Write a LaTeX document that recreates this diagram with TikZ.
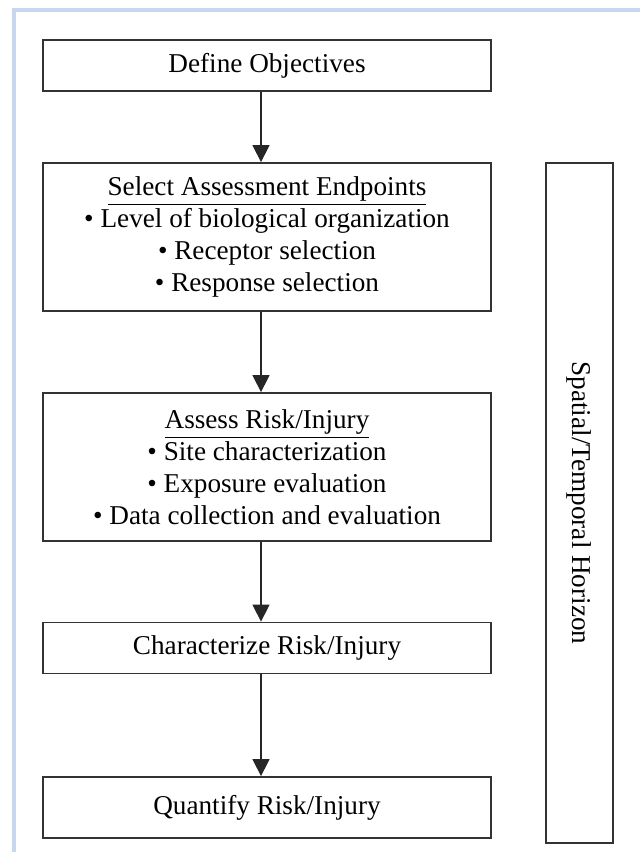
\documentclass[tikz,border=0pt]{standalone}
\usepackage{fontspec}
\setmainfont{Liberation Serif}
\usepackage{tikz}
\usetikzlibrary{arrows.meta}
\definecolor{frameblue}{RGB}{200,214,238}
\tikzset{
	stage/.style={draw=black!80, line width=0.9pt, minimum width=224pt, inner sep=0pt, align=center, font=\fontsize{13.6}{16}\selectfont},
	flow/.style={line width=0.7pt, color=black!85, -{Triangle[width=8.5pt,length=8.5pt]}}
}

\begin{document}
\begin{tikzpicture}[x=0.5pt, y=-0.5pt]
		%%%%% START %%%%%
		\useasboundingbox (0, 0) rectangle (640, 852);
		
		\fill[frameblue] (12, 8) rectangle (640, 12);
		\fill[frameblue] (12, 8) rectangle (16, 852);
		
		\node[stage, minimum height=25.5pt] (obj) at (267, 65.5) {Define Objectives};
		\node[stage, minimum height=74pt] (sel) at (267, 237) {\underline{Select Assessment Endpoints}\\ \textbullet{} Level of biological organization\\ \textbullet{} Receptor selection\\ \textbullet{} Response selection};
		\node[stage, minimum height=74pt] (ass) at (267, 467) {\underline{Assess Risk/Injury}\\ \textbullet{} Site characterization\\ \textbullet{} Exposure evaluation\\ \textbullet{} Data collection and evaluation};
		\node[stage, minimum height=25.5pt] (char) at (267, 648) {Characterize Risk/Injury};
		\node[stage, minimum height=30.5pt] (quant) at (267, 807.5) {Quantify Risk/Injury};
		
		\node[stage, minimum width=33.5pt, minimum height=340pt] (horizon) at (579.5, 503) {};
		\node[rotate=-90, font=\fontsize{13.6}{16}\selectfont] (horizontext) at (horizon.center) {Spatial/Temporal Horizon};
		
		\draw[flow] ([xshift=-3pt]obj.south) -- ([xshift=-3pt]sel.north);
		\draw[flow] ([xshift=-3pt]sel.south) -- ([xshift=-3pt]ass.north);
		\draw[flow] ([xshift=-3pt]ass.south) -- ([xshift=-3pt]char.north);
		\draw[flow] ([xshift=-3pt]char.south) -- ([xshift=-3pt]quant.north);
		
		%%%%% END %%%%%
	\end{tikzpicture}
\end{document}
